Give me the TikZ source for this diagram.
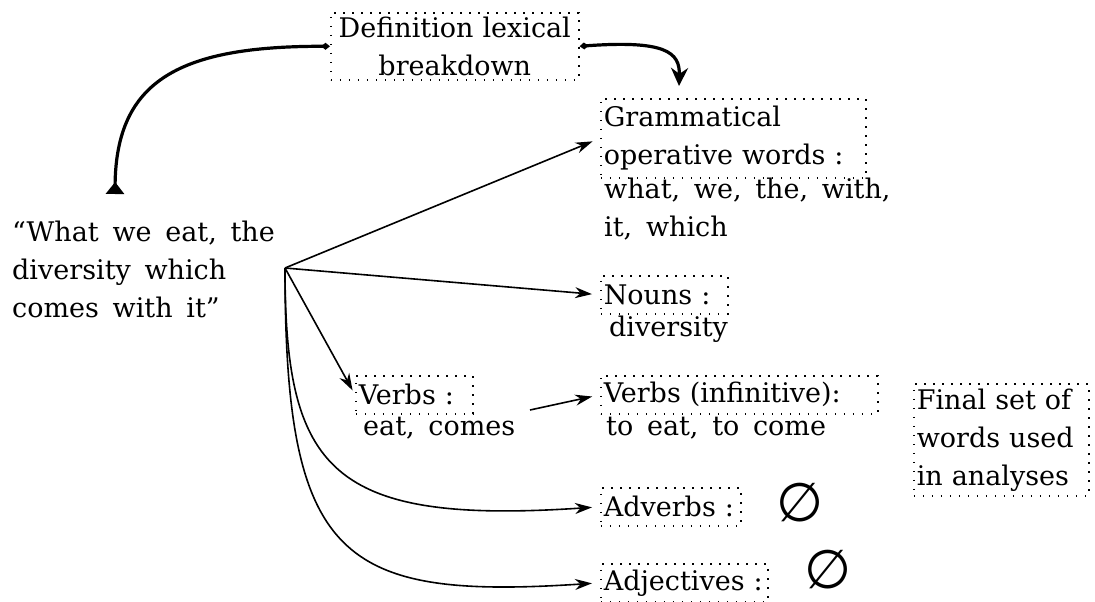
\documentclass[tikz,border=0pt]{standalone}
\usepackage{fontspec}
\setmainfont{DejaVu Serif}[WordSpace=1.6]
\newfontfamily\symf{DejaVu Sans}
\usetikzlibrary{arrows.meta}
\newcommand\mfs{\fontsize{27}{38}\selectfont}
\begin{document}
\begin{tikzpicture}[x=1pt,y=-1pt,
  dbox/.style={draw, dash pattern=on 1.6pt off 7.4pt, line width=1.6pt, inner xsep=3pt, inner ysep=0pt, anchor=north west, align=left, font=\mfs},
  txt/.style={anchor=north west, align=left, inner sep=0pt, font=\mfs},
  arr/.style={line width=1.6pt, -{Stealth[length=17pt,width=11pt]}},
  bold/.style={line width=3.2pt},
  emptyset/.style={font=\symf\fontsize{54}{54}\selectfont, inner sep=0pt, text height=36pt, text depth=0pt, anchor=base}
]
\useasboundingbox (0,0) rectangle (1095,602);
% boxes
\node[dbox, align=center, text width=242pt, minimum height=67pt] (def) at (330,12) {Definition lexical\\breakdown};
\node[dbox, text width=259pt, minimum height=79pt] (gram) at (600,98) {Grammatical\\operative words :};
\node[txt] (gramw) at (604,178) {what, we, the, with,\\it, which};
\node[dbox, text width=121pt, minimum height=38pt] (nouns) at (600,275) {Nouns :};
\node[txt] (nounsw) at (609,316) {diversity};
\node[dbox, text width=111pt, minimum height=38pt] (verbs) at (355,375) {Verbs :};
\node[txt] (verbsw) at (363,417) {eat, comes};
\node[dbox, text width=271pt, minimum height=38pt] (vinf) at (600,375) {Verbs (infinitive):};
\node[txt] (vinfw) at (606,417) {to eat, to come};
\node[dbox, text width=169pt, minimum height=112pt] (final) at (913,383) {Final set of\\words used\\in analyses};
\node[dbox, text width=134pt, minimum height=38pt] (adv) at (600,487) {Adverbs :};
\node[emptyset] (adve) at (800,521) {∅};
\node[dbox, text width=161pt, minimum height=38pt] (adj) at (600,563) {Adjectives :};
\node[emptyset] (adje) at (828,588) {∅};
\node[txt] (quote) at (12,221) {“What we eat, the\\diversity which\\comes with it”};
% coordinates
\coordinate (hub) at (285,268);
\coordinate (qtop) at (115,194);
\coordinate (gtop) at (679,86);
\coordinate (vstart) at (530,410);
% thick connectors
\draw[bold, {Triangle[reversed,length=12pt,width=18pt]}-{Diamond[length=9pt,width=7pt]}] (qtop) .. controls (116,80) and (180,46) .. (def.west);
\draw[bold, {Diamond[length=9pt,width=7pt]}-{Stealth[length=18pt,width=17pt]}] (def.east) .. controls (665,40) and (680,52) .. (gtop);
% thin connectors
\draw[arr, shorten >=8pt] (hub) -- (gram.west);
\draw[arr, shorten >=8pt] (hub) -- (nouns.west);
\draw[arr, shorten >=5pt] (hub) -- (verbs.west);
\draw[arr, shorten >=8pt] (vstart) -- (vinf.west);
\draw[arr, shorten >=8pt] (hub) .. controls (285,470) and (330,525) .. (adv.west);
\draw[arr, shorten >=8pt] (hub) .. controls (285,560) and (340,600) .. (adj.west);
\end{tikzpicture}
\end{document}
